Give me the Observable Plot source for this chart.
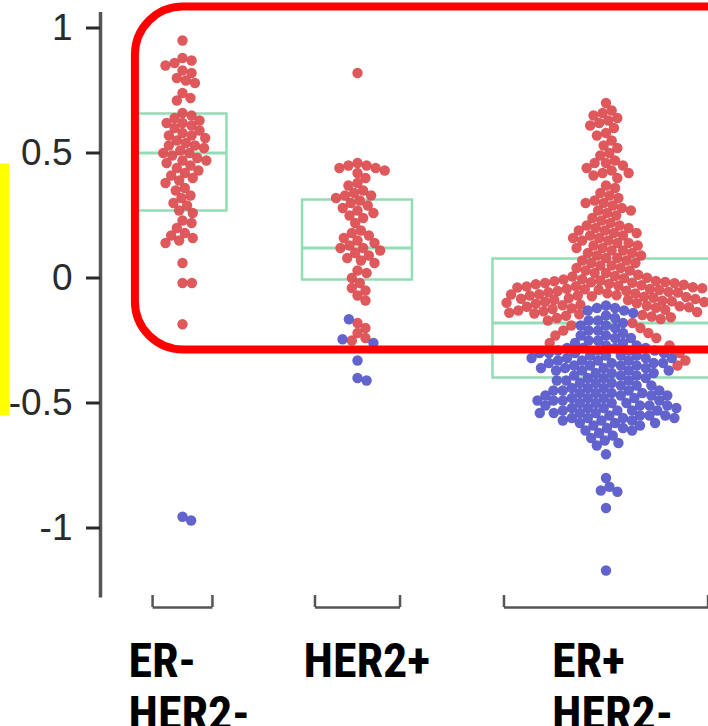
<!DOCTYPE html>
<html><head><meta charset="utf-8">
<script src="https://cdn.jsdelivr.net/npm/d3@7"></script>
<script src="https://cdn.jsdelivr.net/npm/@observablehq/plot@0.6"></script>
<style>body{margin:0;background:#fff;overflow:hidden}</style>
</head><body><div id="chart"></div>
<script>
// ---------- DATA ----------
const categories = ["ER-\nHER2-", "HER2+", "ER+\nHER2-"];
const yTicks = [-1, -0.5, 0, 0.5, 1];

const erNegRed = [0.95,
  0.88, 0.87, 0.86, 0.85, 0.83, 0.82, 0.80, 0.79, 0.78, 0.74, 0.72, 0.71,
  0.66, 0.65, 0.64, 0.63, 0.62, 0.62, 0.61, 0.60, 0.59, 0.58, 0.57, 0.57, 0.56, 0.55,
  0.54, 0.53, 0.53, 0.52, 0.51, 0.50, 0.50, 0.49, 0.48, 0.47, 0.47, 0.46, 0.45, 0.44,
  0.43, 0.42, 0.41, 0.40, 0.39, 0.38, 0.36, 0.35, 0.33, 0.32, 0.30, 0.29, 0.27, 0.26,
  0.23, 0.22, 0.20, 0.18, 0.17, 0.16, 0.15, 0.14,
  0.06, -0.02, -0.02, -0.185];
const erNegBlue = [-0.955, -0.97];

const her2Red = [0.82,
  0.46, 0.45, 0.45, 0.44, 0.44, 0.43, 0.42, 0.40, 0.38, 0.37,
  0.35, 0.34, 0.33, 0.33, 0.32, 0.31, 0.30, 0.29, 0.28, 0.27, 0.26, 0.25, 0.24, 0.22,
  0.19, 0.18, 0.17, 0.16, 0.15,
  0.14, 0.13, 0.12, 0.12, 0.11, 0.10, 0.09, 0.08, 0.07, 0.06,
  0.03, 0.02, 0.00, -0.02, -0.04, -0.05, -0.07, -0.09,
  -0.18, -0.20, -0.22, -0.24, -0.25];
const her2Blue = [-0.165, -0.245, -0.26, -0.33, -0.40, -0.41];

const erPosRed = [0.70,
  0.67, 0.66, 0.65, 0.64, 0.63, 0.62, 0.61, 0.60, 0.58, 0.57,
  0.55, 0.53, 0.52, 0.50, 0.49,
  0.47, 0.46, 0.46, 0.45, 0.44, 0.43, 0.42, 0.42, 0.41, 0.40,
  0.37, 0.36, 0.34, 0.33, 0.32,
  0.31, 0.30, 0.30, 0.29, 0.28, 0.27, 0.27, 0.26, 0.25, 0.24, 0.23, 0.22,
  0.21, 0.21, 0.20, 0.20, 0.19, 0.19, 0.18, 0.18, 0.17, 0.17, 0.16, 0.16, 0.15, 0.15,
  0.14, 0.14, 0.13, 0.13, 0.12, 0.12, 0.11, 0.11, 0.10, 0.10, 0.09, 0.09, 0.08, 0.08,
  0.07, 0.07, 0.06, 0.06, 0.05, 0.05, 0.04, 0.04, 0.03, 0.03, 0.02, 0.02,
  0.013, 0.008, 0.006, 0.001, -0.001, -0.005, -0.006, -0.010, -0.012, -0.013,
  -0.016, -0.017, -0.019, -0.020, -0.021, -0.023, -0.025, -0.027, -0.029, -0.031,
  -0.033, -0.034, -0.037, -0.038, -0.041, -0.043, -0.044, -0.045, -0.047, -0.048,
  -0.051, -0.052, -0.055, -0.057, -0.058, -0.061, -0.062, -0.065, -0.066, -0.069,
  -0.070, -0.070, -0.073, -0.075, -0.076, -0.079, -0.081, -0.083, -0.084, -0.087,
  -0.088, -0.091, -0.093, -0.095, -0.096, -0.099, -0.101, -0.103, -0.105, -0.107,
  -0.109, -0.111, -0.113, -0.115, -0.117, -0.119, -0.121, -0.124, -0.127, -0.130,
  -0.133, -0.136, -0.139, -0.142, -0.145, -0.148, -0.151, -0.154, -0.157, -0.160,
  -0.164,
  -0.17, -0.18, -0.19, -0.20, -0.21, -0.22, -0.23, -0.24, -0.26, -0.27,
  -0.30, -0.33, -0.35];
const erPosBlue = [
  -0.11, -0.12, -0.12, -0.13, -0.13, -0.14, -0.15, -0.16, -0.17, -0.17, -0.18, -0.19,
  -0.19, -0.20, -0.21, -0.21, -0.22, -0.23, -0.23, -0.24, -0.24, -0.25, -0.25, -0.26,
  -0.26, -0.27, -0.27,
  -0.28, -0.28, -0.28, -0.28, -0.29, -0.29, -0.29, -0.29, -0.30, -0.30, -0.30, -0.30,
  -0.31, -0.31, -0.31, -0.31, -0.32, -0.32, -0.32, -0.32, -0.33, -0.33, -0.33, -0.33,
  -0.34, -0.34, -0.34, -0.34, -0.35, -0.35, -0.35, -0.35, -0.36, -0.36, -0.36, -0.36,
  -0.37, -0.37, -0.37, -0.37, -0.38, -0.38, -0.38,
  -0.39, -0.39, -0.39, -0.40, -0.40, -0.40, -0.41, -0.41, -0.41, -0.42, -0.42, -0.42,
  -0.43, -0.43, -0.43, -0.44, -0.44, -0.44,
  -0.45, -0.45, -0.45, -0.45, -0.46, -0.46, -0.46, -0.46, -0.47, -0.47, -0.47, -0.47,
  -0.48, -0.48, -0.48, -0.48, -0.49, -0.49, -0.49, -0.49, -0.50, -0.50, -0.50, -0.50,
  -0.51, -0.51, -0.51, -0.51, -0.52, -0.52, -0.52, -0.52, -0.53, -0.53, -0.53, -0.53,
  -0.54, -0.54, -0.54, -0.54, -0.55, -0.55, -0.55, -0.55, -0.56, -0.56, -0.56, -0.56,
  -0.57, -0.57, -0.57, -0.58, -0.58, -0.58,
  -0.59, -0.59, -0.60, -0.60, -0.61, -0.61, -0.62, -0.63,
  -0.64, -0.65, -0.66, -0.67,
  -0.705, -0.80, -0.835, -0.85, -0.855, -0.92, -1.17];

// box summaries (lower quartile, median, upper quartile)
const boxQ1 = [0.268, -0.008, -0.40];
const boxMedian = [0.50, 0.12, -0.18];
const boxQ3 = [0.656, 0.312, 0.076];

// highlight annotations (data units)
const highlightX = [0.731, 4.35];
const highlightY = [-0.288, 1.084];
const markerY = [-0.552, 0.456];

// ---------- LAYOUT ----------
const W = 708, H = 726, mL = 100, mR = 0, mT = 15, mB = 128.5;
const yDomain = [-1.28, 1.05];
const xDomain = [0.5314, 4.0057];
const groupX = [1, 2, 3.42];
const boxHalf = [0.254, 0.314, 0.646];
const bracketHalf = [0.171, 0.243, 0.583];
const RED = "#dc4f53", BLUE = "#5b5bca", GREEN = "#93ddb4";

const ys = Plot.scale({y: {domain: yDomain, range: [H - mB, mT]}});
const xs = Plot.scale({x: {domain: xDomain, range: [mL, W - mR]}});
const pxPerX = (W - mL - mR) / (xDomain[1] - xDomain[0]);

function swarm(items, gi) {
  const D = 9.4;
  const placed = [];
  for (const d of items) {
    const py = ys.apply(d.v);
    const near = placed.filter(p => Math.abs(p.py - py) < D);
    const cands = [0];
    for (const p of near) {
      const dx = Math.sqrt(D * D - (p.py - py) ** 2);
      cands.push(p.px + dx, p.px - dx);
    }
    cands.sort((a, b) => Math.abs(a) - Math.abs(b));
    let best = 0;
    for (const c of cands) {
      if (near.every(p => (p.px - c) ** 2 + (p.py - py) ** 2 >= D * D - 0.01)) { best = c; break; }
    }
    placed.push({px: best, py, v: d.v, cls: d.cls, x: groupX[gi] + best / pxPerX});
  }
  return placed;
}
const desc = (a) => a.slice().sort((p, q) => q - p);
const mk = (arr, cls) => desc(arr).map(v => ({v, cls}));
const points = [
  ...swarm([...mk(erNegRed, "r"), ...mk(erNegBlue, "b")], 0),
  ...swarm([...mk(her2Red, "r"), ...mk(her2Blue, "b")], 1),
  ...swarm([...mk(erPosBlue, "b"), ...mk(erPosRed, "r")], 2)
];

const groups = categories.map((c, i) => ({
  label: c, x: groupX[i], q1: boxQ1[i], med: boxMedian[i], q3: boxQ3[i],
  bw: boxHalf[i], kw: bracketHalf[i]
}));
const bracketY = ys.invert(607), bracketTop = ys.invert(595);
const axisTop = ys.invert(12);

const plot = Plot.plot({
  width: W, height: H, marginLeft: mL, marginRight: mR, marginTop: mT, marginBottom: mB,
  x: {domain: xDomain, axis: null},
  y: {domain: yDomain, axis: null},
  style: {fontFamily: "'Liberation Sans', Arial, sans-serif", background: "#fff"},
  marks: [
    Plot.rect([0], {x1: xs.invert(0), x2: xs.invert(9.5), y1: markerY[0], y2: markerY[1], fill: "#ffff00"}),
    Plot.rect(groups, {x1: d => d.x - d.bw, x2: d => d.x + d.bw, y1: "q1", y2: "q3", fill: "none", stroke: GREEN, strokeWidth: 2.5}),
    Plot.ruleY(groups, {y: "med", x1: d => d.x - d.bw, x2: d => d.x + d.bw, stroke: GREEN, strokeWidth: 3}),
    Plot.dot(points.filter(d => d.cls === "r"), {x: "x", y: "v", r: 5.2, fill: RED, fillOpacity: 0.95}),
    Plot.dot(points.filter(d => d.cls === "b"), {x: "x", y: "v", r: 5.2, fill: BLUE, fillOpacity: 0.95}),
    Plot.rect([0], {x1: highlightX[0], x2: highlightX[1], y1: highlightY[0], y2: highlightY[1], rx: 48, fill: "none", stroke: "#ff0000", strokeWidth: 8}),
    Plot.ruleX([xDomain[0]], {y1: yDomain[0], y2: axisTop, stroke: "#555", strokeWidth: 3.5}),
    Plot.axisY(yTicks, {tickSize: 14, tickPadding: 14, fontSize: 37, strokeWidth: 3, color: "#2a2a2a", tickFormat: d => String(d)}),
    Plot.link(groups, {x1: d => d.x - d.kw, x2: d => d.x + d.kw, y1: bracketY, y2: bracketY, stroke: "#555", strokeWidth: 2.5}),
    Plot.ruleX(groups.flatMap(d => [d.x - d.kw, d.x + d.kw]), {y1: bracketY, y2: bracketTop, stroke: "#555", strokeWidth: 2.5}),
    Plot.text(groups, {x: "x", text: "label", frameAnchor: "bottom", textAnchor: "start", lineAnchor: "top", dx: -54, dy: 41.5,
      fontSize: 48, fontWeight: "bold", fontFamily: "'Liberation Sans Narrow', 'Roboto Condensed', Roboto, sans-serif", lineHeight: 1.1, fill: "#000"})
  ]
});
document.getElementById("chart").appendChild(plot);
</script>
</body></html>
